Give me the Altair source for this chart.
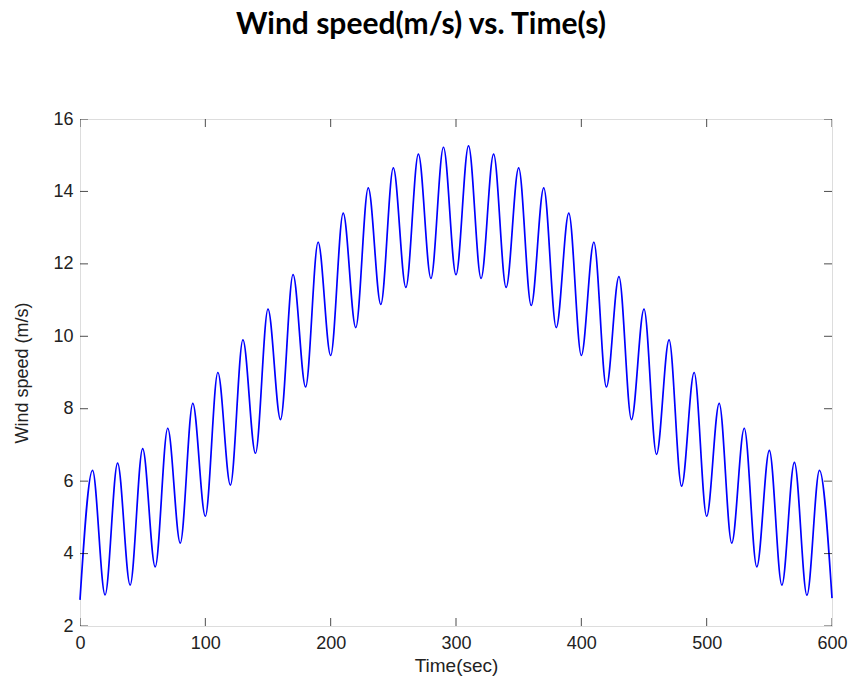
import altair as alt
import pandas as pd

# Local minima (troughs) of the wind speed signal
trough_time = [0, 20, 40, 60, 80, 100, 120, 140, 160, 180, 200, 220, 240, 260, 280, 300,
               320, 340, 360, 380, 400, 420, 440, 460, 480, 500, 520, 540, 560, 580, 600]
trough_speed = [2.72, 2.86, 3.13, 3.63, 4.29, 5.03, 5.89, 6.77, 7.70, 8.60, 9.47, 10.24,
                10.88, 11.35, 11.60, 11.70, 11.60, 11.35, 10.85, 10.24, 9.47, 8.60, 7.70,
                6.74, 5.86, 5.03, 4.29, 3.63, 3.13, 2.85, 2.77]

# Local maxima (peaks)
peak_time = [10, 30, 50, 70, 90, 110, 130, 150, 170, 190, 210, 230, 250, 270, 290,
             310, 330, 350, 370, 390, 410, 430, 450, 470, 490, 510, 530, 550, 570, 590]
peak_speed = [6.30, 6.50, 6.90, 7.46, 8.15, 9.00, 9.90, 10.75, 11.70, 12.60, 13.40, 14.10,
              14.65, 15.03, 15.22, 15.26, 15.03, 14.65, 14.10, 13.40, 12.60, 11.65, 10.75,
              9.90, 9.00, 8.15, 7.46, 6.85, 6.52, 6.30]

x_ticks = [0, 100, 200, 300, 400, 500, 600]
y_ticks = [2, 4, 6, 8, 10, 12, 14, 16]

df = pd.DataFrame({
    "t": trough_time + peak_time,
    "v": trough_speed + peak_speed,
}).sort_values("t").reset_index(drop=True)

xscale = alt.Scale(domain=[0, 600], nice=False, zero=False)
yscale = alt.Scale(domain=[2, 16], nice=False, zero=False)

AXIS_FONT = "Liberation Sans"

line = alt.Chart(df).mark_line(
    color="#0000FF", strokeWidth=1.7, interpolate="monotone"
).encode(
    x=alt.X("t:Q", scale=xscale,
            axis=alt.Axis(values=x_ticks, title="Time(sec)", ticks=False, tickSize=0,
                          domain=False, grid=False, labelPadding=8, titlePadding=4,
                          labelFont=AXIS_FONT, labelFontSize=18, labelColor="#222",
                          titleFont=AXIS_FONT, titleFontSize=19, titleFontWeight="normal",
                          titleColor="#222", labelFlush=False)),
    y=alt.Y("v:Q", scale=yscale,
            axis=alt.Axis(values=y_ticks, title="Wind speed (m/s)", ticks=False, tickSize=0,
                          domain=False, grid=False, labelPadding=7, titlePadding=21,
                          labelFont=AXIS_FONT, labelFontSize=18, labelColor="#222",
                          titleFont=AXIS_FONT, titleFontSize=18, titleFontWeight="normal",
                          titleColor="#222", labelFlush=False)),
)

xt = pd.DataFrame({"t": x_ticks})
yt = pd.DataFrame({"v": y_ticks})

xtick_bottom = alt.Chart(xt).mark_tick(orient="vertical", size=16, thickness=1,
                                       color="black", clip=True).encode(
    x=alt.X("t:Q", scale=xscale), y=alt.datum(2, scale=yscale))
xtick_top = alt.Chart(xt).mark_tick(orient="vertical", size=16, thickness=1,
                                    color="black", clip=True).encode(
    x=alt.X("t:Q", scale=xscale), y=alt.datum(16, scale=yscale))
ytick_left = alt.Chart(yt).mark_tick(orient="horizontal", size=16, thickness=1,
                                     color="black", clip=True).encode(
    y=alt.Y("v:Q", scale=yscale), x=alt.datum(0, scale=xscale))
ytick_right = alt.Chart(yt).mark_tick(orient="horizontal", size=16, thickness=1,
                                      color="black", clip=True).encode(
    y=alt.Y("v:Q", scale=yscale), x=alt.datum(600, scale=xscale))

chart = alt.layer(line, xtick_bottom, xtick_top, ytick_left, ytick_right).properties(
    width=752,
    height=507,
    title=alt.TitleParams(
        "Wind speed(m/s) vs. Time(s)", font="Lato", fontSize=30, fontWeight="bold",
        color="black", anchor="middle", dx=-35, offset=46, baseline="alphabetic"),
    autosize=alt.AutoSizeParams(type="none"),
    padding={"left": 80, "top": 119, "right": 22, "bottom": 53},
).configure_view(stroke="black", strokeWidth=1.4).configure(background="white")

chart.save("out.html", embed_options={"renderer": "svg", "actions": False})
